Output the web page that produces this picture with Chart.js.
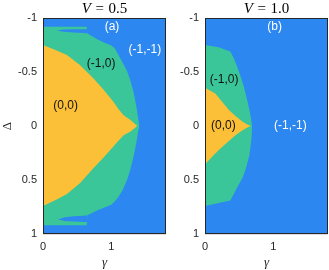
<!DOCTYPE html>
<html>
<head>
<meta charset="utf-8">
<script src="https://cdn.jsdelivr.net/npm/chart.js@4.4.0/dist/chart.umd.min.js"></script>
<style>
  html, body { margin: 0; padding: 0; background: #fff; }
  #wrap { position: relative; width: 329px; height: 270px; overflow: hidden; }
  canvas { position: absolute; top: 0; }
  #cA { left: 0; }
  #cB { left: 168px; }
</style>
</head>
<body>
<div id="wrap">
  <canvas id="cA" width="168" height="270"></canvas>
  <canvas id="cB" width="161" height="270"></canvas>
</div>
<script>
// ticks
const xTicks = [0, 1]
const yTicks = [-1, -0.5, 0, 0.5, 1]

// panel (a), V = 0.5  -- region boundaries (gamma, Delta)
const gYellowA = [0, 0.2, 0.35, 0.54, 0.74, 0.89, 1.03, 1.1, 1.18, 1.28, 1.38]
const dYellowTopA = [-0.75, -0.70, -0.657, -0.565, -0.44, -0.333, -0.225, -0.16, -0.10, -0.055, 0]
const dYellowBotA = [0.74, 0.68, 0.63, 0.53, 0.39, 0.29, 0.19, 0.14, 0.085, 0.05, 0]

const gGreenTopA = [0, 0.64, 0.65, 0.8, 0.9, 1.0, 1.05, 1.12, 1.18, 1.23, 1.28, 1.33, 1.37, 1.39, 1.41]
const dGreenTopA = [-0.92, -0.92, -0.857, -0.80, -0.77, -0.745, -0.72, -0.64, -0.57, -0.51, -0.42, -0.30, -0.17, -0.08, 0]
const gGreenBotA = [0, 0.64, 0.65, 0.8, 0.9, 1.0, 1.05, 1.1, 1.16, 1.23, 1.28, 1.33, 1.37, 1.39, 1.41]
const dGreenBotA = [0.92, 0.92, 0.827, 0.78, 0.755, 0.73, 0.70, 0.66, 0.60, 0.50, 0.40, 0.27, 0.14, 0.06, 0]

// the two thin blue tongues cutting into the green band
const gTongueTopA = [0.2, 0.3, 0.45, 0.6, 0.65]
const dTongueTopOutA = [-0.885, -0.893, -0.895, -0.896, -0.896]
const dTongueTopInA = [-0.885, -0.872, -0.865, -0.86, -0.857]
const gTongueBotA = [0.22, 0.32, 0.45, 0.6, 0.65]
const dTongueBotOutA = [0.865, 0.88, 0.885, 0.888, 0.888]
const dTongueBotInA = [0.865, 0.845, 0.835, 0.83, 0.827]

// panel (b), V = 1.0
const gYellowB = [0, 0.15, 0.25, 0.35, 0.45, 0.55, 0.62, 0.67]
const dYellowTopB = [-0.355, -0.30, -0.225, -0.148, -0.09, -0.04, -0.015, 0]
const dYellowBotB = [0.355, 0.255, 0.195, 0.14, 0.083, 0.04, 0.015, 0]

const gGreenTopB = [0, 0.2, 0.37, 0.42, 0.47, 0.52, 0.57, 0.61, 0.65, 0.67, 0.69]
const dGreenTopB = [-0.75, -0.73, -0.69, -0.63, -0.55, -0.46, -0.36, -0.26, -0.15, -0.08, 0]
const gGreenBotB = [0, 0.15, 0.37, 0.40, 0.47, 0.55, 0.60, 0.65, 0.68, 0.69]
const dGreenBotB = [0.74, 0.72, 0.69, 0.655, 0.57, 0.48, 0.39, 0.27, 0.12, 0]

// whole plane is (-1,-1) underneath
const gFull = [0, 1.8]
const dFull = [-1, -1]

// region labels
const labelTextA = ['(a)', '(-1,-1)', '(-1,0)', '(0,0)']
const labelGammaA = [1.01, 1.49, 0.85, 0.33]
const labelDeltaA = [-0.92, -0.71, -0.58, -0.19]
const labelTextB = ['(b)', '(-1,0)', '(0,0)', '(-1,-1)']
const labelGammaB = [1.02, 0.28, 0.27, 1.25]
const labelDeltaB = [-0.92, -0.43, 0, 0]

const BLUE = 'rgb(45,135,240)'
const GREEN = 'rgb(58,198,153)'
const YELLOW = 'rgb(252,192,56)'
const INK = '#262626'

const pts = (gs, ds) => gs.map((g, i) => ({x: g, y: ds[i]}))

function area(gs, ds, color, fill) {
  return {
    data: pts(gs, ds),
    backgroundColor: color,
    borderColor: 'rgba(0,0,0,0)',
    borderWidth: 0,
    pointRadius: 0,
    tension: 0,
    fill: fill
  }
}

// title with italic V, region labels, and the box frame
const decor = {
  id: 'decor',
  afterDraw(chart, args, opts) {
    const ctx = chart.ctx
    const a = chart.chartArea
    const xs = chart.scales.x, ys = chart.scales.y
    ctx.save()

    ctx.strokeStyle = INK
    ctx.lineWidth = 1
    ctx.strokeRect(a.left + 0.5, a.top + 0.5, a.right - a.left - 1, a.bottom - a.top - 1)

    const it = 'italic 15px "Liberation Serif"'
    const rm = '15px "Liberation Serif"'
    ctx.font = it
    const wV = ctx.measureText('V').width
    ctx.font = rm
    const wEq = ctx.measureText('=').width
    const wNum = ctx.measureText(opts.value).width
    const gap = 4.5
    let x = (a.left + a.right) / 2 - (wV + wEq + wNum + 2 * gap) / 2
    const y = 9
    ctx.fillStyle = '#000'
    ctx.textBaseline = 'middle'
    ctx.textAlign = 'left'
    ctx.font = it
    ctx.fillText('V', x, y)
    x += wV + gap
    ctx.font = rm
    ctx.fillText('=', x, y)
    x += wEq + gap
    ctx.fillText(opts.value, x, y)

    ctx.font = '12px "Liberation Sans"'
    ctx.textAlign = 'center'
    opts.text.forEach((t, i) => {
      ctx.fillStyle = (t === '(0,0)' || t === '(-1,0)') ? '#111' : '#fff'
      ctx.fillText(t, xs.getPixelForValue(opts.g[i]), ys.getPixelForValue(opts.d[i]))
    })
    ctx.restore()
  }
}

function makePanel(id, cfg) {
  // dataset 0 ends up on top, the last one at the bottom
  const datasets = [
    area(cfg.gY, cfg.dYTop, YELLOW, '+1'),
    area(cfg.gY, cfg.dYBot, YELLOW, false)
  ]
  cfg.tongues.forEach(t => {
    datasets.push(area(t[0], t[1], BLUE, '+1'))
    datasets.push(area(t[0], t[2], BLUE, false))
  })
  datasets.push(area(cfg.gGTop, cfg.dGTop, GREEN, '+1'))
  datasets.push(area(cfg.gGBot, cfg.dGBot, GREEN, false))
  datasets.push(area(gFull, dFull, BLUE, {value: 1}))

  new Chart(document.getElementById(id), {
    type: 'line',
    data: {datasets},
    options: {
      responsive: false,
      animation: false,
      devicePixelRatio: 1,
      layout: {padding: {top: 18, right: cfg.padRight, left: 0, bottom: 0}},
      plugins: {
        legend: {display: false},
        tooltip: {enabled: false},
        filler: {propagate: false},
        decor: {value: cfg.title, text: cfg.labels, g: cfg.lg, d: cfg.ld}
      },
      scales: {
        x: {
          type: 'linear',
          min: 0,
          max: 1.8,
          z: 1,
          afterBuildTicks: s => { s.ticks = xTicks.map(v => ({value: v})) },
          afterFit: s => { s.height = 36 },
          ticks: {callback: v => String(v), color: INK, padding: 6, maxRotation: 0,
                  font: {family: 'Liberation Sans', size: 11}},
          grid: {color: 'rgba(0,0,0,0.13)', drawTicks: false},
          border: {display: false},
          title: {display: true, text: 'γ', color: INK, padding: 0,
                  font: {family: 'Liberation Serif', size: 13, style: 'italic'}}
        },
        y: {
          type: 'linear',
          min: -1,
          max: 1,
          reverse: true,
          z: 1,
          afterBuildTicks: s => { s.ticks = yTicks.map(v => ({value: v})) },
          afterFit: s => { s.width = cfg.yWidth },
          ticks: {callback: v => String(v), color: INK, padding: 6,
                  font: {family: 'Liberation Sans', size: 11}},
          grid: {color: 'rgba(0,0,0,0.13)', drawTicks: false},
          border: {display: false},
          title: {display: cfg.yTitle, text: 'Δ', color: INK, padding: 0,
                  font: {family: 'Liberation Serif', size: 13}}
        }
      }
    },
    plugins: [decor]
  })
}

makePanel('cA', {
  title: '0.5',
  gY: gYellowA, dYTop: dYellowTopA, dYBot: dYellowBotA,
  gGTop: gGreenTopA, dGTop: dGreenTopA, gGBot: gGreenBotA, dGBot: dGreenBotA,
  tongues: [[gTongueTopA, dTongueTopOutA, dTongueTopInA], [gTongueBotA, dTongueBotOutA, dTongueBotInA]],
  labels: labelTextA, lg: labelGammaA, ld: labelDeltaA,
  yWidth: 43, padRight: 2, yTitle: true
})

makePanel('cB', {
  title: '1.0',
  gY: gYellowB, dYTop: dYellowTopB, dYBot: dYellowBotB,
  gGTop: gGreenTopB, dGTop: dGreenTopB, gGBot: gGreenBotB, dGBot: dGreenBotB,
  tongues: [],
  labels: labelTextB, lg: labelGammaB, ld: labelDeltaB,
  yWidth: 37, padRight: 1, yTitle: false
})
</script>
</body>
</html>
